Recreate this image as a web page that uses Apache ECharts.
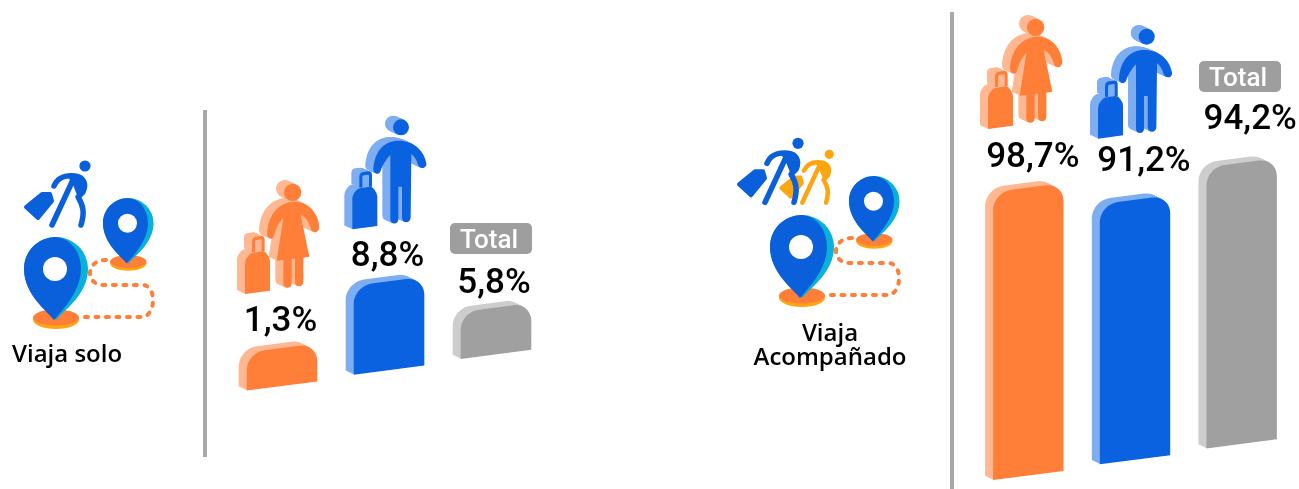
<!DOCTYPE html>
<html>
<head>
<meta charset="utf-8">
<style>html,body{margin:0;padding:0;background:#fff}#c{width:1299px;height:489px}</style>
<script src="https://cdn.jsdelivr.net/npm/echarts@6/dist/echarts.min.js"></script>
</head>
<body>
<div id="c"></div>
<script>
// ---- data ----
const categories = ['Mujeres', 'Hombres', 'Total'];
const soloTitle = 'Viaja solo';
const groupTitle = ['Viaja', 'Acompañado'];
// printed percentages
const soloPercent = [1.3, 8.8, 5.8];
const groupPercent = [98.7, 91.2, 94.2];
// drawn bar lengths on a shared 0-100 axis (the picture's bars are not proportional to their labels)
const soloBarLength = [12.9, 30.1, 15.9];
const groupBarLength = [97.6, 88.1, 95.3];

// ---- layout and style ----
const colors = ['#ff7f38', '#0a62e0', '#a0a0a0'];
const lights = ['#ffb892', '#7eaef2', '#cdcdcd'];
const soloLift = [25.5, 24.5, 23.5], soloShift = [-1.5, -1.5, -2];
const groupLift = [29.5, 37.5, 42.5], groupShift = [4.5, 9, 8.5];
const STAGGER = 0.148, EDGE = 0.13, DEPTH = [-8, -4], RADIUS = 18;

const reg = (n, d) => echarts.graphic.registerShape(n, echarts.graphic.extendPath(d));
reg('manBody', 'M460,205 C465,150 495,122 535,122 C580,122 612,150 619,190 C621,207 597,210 593,192 C590,180 582,168 574,162 L572,352 C572,372 546,372 546,352 L546,260 L535,260 L535,358 C535,375 511,375 511,358 L511,165 C500,175 488,195 482,212 C477,228 458,222 460,205 Z');
reg('womanBody', 'M141,400 C145,340 180,305 225,305 C265,305 295,340 298,380 C298,400 275,402 272,385 C268,368 258,352 242,345 L268,470 L250,473 L250,545 C250,563 225,563 225,545 L225,476 L215,477 L215,550 C215,568 190,568 190,550 L190,480 L170,482 L190,355 C178,365 168,385 162,408 C157,422 141,418 141,400 Z');
reg('caseBody', 'M397,298 Q397,282 412,268 Q416,265 425,264 L450,260 Q458,260 464,270 Q472,280 472,290 L472,378 L397,388 Z');
reg('caseHandle', 'M418,262 L418,230 Q418,218 430,216 L445,214 Q456,213 456,226 L456,260 L447,261 L447,228 Q447,224 443,224 L431,226 Q427,227 427,231 L427,263 Z');
reg('pinOuter', 'M32,83 C26,75 0,58 0,32 A32,32 0 0 1 64,32 C64,58 38,75 32,83 Z');
reg('pinInner', 'M30,83 C24,75 0,58 0,32 C0,14 14,0 32,0 C48,2 57,16 57,32 C57,54 38,74 30,83 Z');
reg('trail', 'M106,260 C96,260 90,266 90,273 C90,281 96,285 104,285 L142,285 C150,285 153,293 153,300 C153,310 148,317 142,317 L83,317');
reg('walkLimbs', 'M54,186 C58,177 65,175 75,176 C83,177 87,183 83,192 L78,197 C83,205 85,212 81,225 M72,182 L52,225');
reg('walkTorso', 'M68,176 L82,177 L86,188 L79,198 L73,183 Z');
reg('walkCase', 'M26,207 L42,194 L50,194 L52,201 L38,218 Z');

function person(kind, x, y, dark, light) {
  const isMan = kind === 'man';
  const head = isMan ? [543, 82, 24] : [218, 277, 26];
  const cdx = isMan ? 0 : -322, cdy = isMan ? 0 : 194;
  const children = [];
  const parts = (dx, dy, fill) => {
    children.push({ type: isMan ? 'manBody' : 'womanBody', x: dx, y: dy, shape: {}, style: { fill } });
    children.push({ type: 'caseBody', x: dx + cdx, y: dy + cdy, shape: {}, style: { fill } });
    children.push({ type: 'caseHandle', x: dx + cdx, y: dy + cdy, shape: {}, style: { fill } });
    children.push({ type: 'circle', shape: { cx: head[0] + dx, cy: head[1] + dy, r: head[2] }, style: { fill } });
  };
  for (let k = 10; k >= 1; k--) parts(-24 * k / 10, -11 * k / 10, light);
  parts(0, 0, dark);
  return { type: 'group', x, y, scaleX: 1 / 3, scaleY: 1 / 3, children };
}

function pin(x, y, s) {
  return { type: 'group', x, y, scaleX: s, scaleY: s, children: [
    { type: 'ellipse', shape: { cx: 32, cy: 82.5, rx: 23, ry: 9.5 }, style: { fill: '#ffa50f' } },
    { type: 'ellipse', shape: { cx: 32, cy: 80.5, rx: 23, ry: 8 }, style: { fill: '#ff7f38' } },
    { type: 'pinOuter', shape: {}, style: { fill: '#07b1d9' } },
    { type: 'pinInner', shape: {}, style: { fill: '#0a5fdb' } },
    { type: 'circle', shape: { cx: 31, cy: 32, r: 12 }, style: { fill: '#fff' } }
  ] };
}

function walker(x, y, s, c) {
  return { type: 'group', x, y, scaleX: s, scaleY: s, children: [
    { type: 'circle', shape: { cx: 85, cy: 166, r: 5.6 }, style: { fill: c } },
    { type: 'walkLimbs', shape: {}, style: { fill: 'none', stroke: c, lineWidth: 5.5, lineCap: 'round', lineJoin: 'round' } },
    { type: 'walkTorso', shape: {}, style: { fill: c, stroke: c, lineWidth: 1.5, lineJoin: 'round' } },
    { type: 'walkCase', shape: {}, style: { fill: c, stroke: c, lineWidth: 4, lineJoin: 'round' } }
  ] };
}

function pinSet(dx, dy) {
  return { type: 'group', x: dx, y: dy, children: [
    { type: 'trail', shape: {}, style: { fill: 'none', stroke: '#ff7f38', lineWidth: 4, lineCap: 'round', lineDash: [3, 7.5] } },
    pin(103, 198, 0.79),
    pin(24, 237, 1)
  ] };
}

function totalTag(x, y) {
  return { type: 'group', x, y, children: [
    { type: 'rect', shape: { x: 0, y: 0, width: 82, height: 31, r: 5 }, style: { fill: '#9e9e9e' } },
    { type: 'text', x: 39, y: 18, style: { text: categories[2], fill: '#fff', align: 'center', verticalAlign: 'middle', font: '500 26px Roboto' } }
  ] };
}

const titleFont = '600 24px "Open Sans"';
const txt = (text, x, y, align) => ({ type: 'text', x, y, style: { text, fill: '#000', align, verticalAlign: 'middle', font: titleFont } });

function renderer(percent, lift, shift) {
  return function (params, api) {
    const i = params.dataIndex;
    const ref = api.coord([0, 0]);
    const baseP = api.coord([i, 0]);
    const topP = api.coord([i, api.value(1)]);
    const w = api.size([1, 0])[0] * 0.66;
    const cx = baseP[0], l = cx - w / 2, r = cx + w / 2;
    const map = (x, y) => [x, y - STAGGER * (cx - ref[0]) - EDGE * (x - cx)];
    const pts = [map(l, baseP[1])];
    const n = 10;
    for (let a = 0; a <= n; a++) {
      const t = Math.PI + (Math.PI / 2) * a / n;
      pts.push(map(l + RADIUS + RADIUS * Math.cos(t), topP[1] + RADIUS + RADIUS * Math.sin(t)));
    }
    for (let a = 0; a <= n; a++) {
      const t = -Math.PI / 2 + (Math.PI / 2) * a / n;
      pts.push(map(r - RADIUS + RADIUS * Math.cos(t), topP[1] + RADIUS + RADIUS * Math.sin(t)));
    }
    pts.push(map(r, baseP[1]));
    const children = [];
    for (let k = 8; k >= 1; k--) {
      children.push({
        type: 'polygon', x: DEPTH[0] * k / 8, y: DEPTH[1] * k / 8,
        shape: { points: pts }, style: { fill: lights[i] }
      });
    }
    children.push({ type: 'polygon', shape: { points: pts }, style: { fill: colors[i] } });
    const topMid = map(cx, topP[1]);
    children.push({
      type: 'text', x: cx + shift[i], y: topMid[1] - lift[i],
      style: {
        text: percent[i].toFixed(1).replace('.', ',') + '%', fill: '#000',
        align: 'center', verticalAlign: 'middle', font: '500 35px Roboto'
      }
    });
    return { type: 'group', children };
  };
}

const chart = echarts.init(document.getElementById('c'), null, { renderer: 'canvas' });
chart.setOption({
  backgroundColor: '#fff',
  animation: false,
  grid: [
    { left: 228.5, width: 321, bottom: 103, height: 295 },
    { left: 975, width: 320, bottom: 13.5, height: 295 }
  ],
  xAxis: [
    { type: 'category', gridIndex: 0, data: categories, show: false },
    { type: 'category', gridIndex: 1, data: categories, show: false }
  ],
  yAxis: [
    { type: 'value', gridIndex: 0, min: 0, max: 100, show: false },
    { type: 'value', gridIndex: 1, min: 0, max: 100, show: false }
  ],
  series: [
    {
      type: 'custom', name: soloTitle, xAxisIndex: 0, yAxisIndex: 0, clip: false, silent: true,
      encode: { x: 0, y: 1 },
      data: soloBarLength.map((v, i) => [i, v]),
      renderItem: renderer(soloPercent, soloLift, soloShift)
    },
    {
      type: 'custom', name: groupTitle.join(' '), xAxisIndex: 1, yAxisIndex: 1, clip: false, silent: true,
      encode: { x: 0, y: 1 },
      data: groupBarLength.map((v, i) => [i, v]),
      renderItem: renderer(groupPercent, groupLift, groupShift)
    }
  ],
  graphic: { elements: [
    { type: 'rect', shape: { x: 203, y: 110, width: 4, height: 347 }, style: { fill: '#a8a8a8' } },
    { type: 'rect', shape: { x: 950, y: 12, width: 4, height: 477 }, style: { fill: '#a8a8a8' } },
    walker(0, 0, 1, '#0a5fdb'),
    pinSet(0, 0),
    txt(soloTitle, 12, 355, 'left'),
    walker(829.3 - 0.82 * 85, 154.3 - 0.82 * 166, 0.82, '#ffa50f'),
    walker(713, -22.7, 1, '#0a5fdb'),
    pinSet(746, -22),
    txt(groupTitle[0], 830, 334, 'center'),
    txt(groupTitle[1], 830, 358, 'center'),
    person('woman', 220, 100, colors[0], lights[0]),
    person('man', 220, 100, colors[1], lights[1]),
    person('woman', 963, -65, colors[0], lights[0]),
    person('man', 965.7, 9.3, colors[1], lights[1]),
    totalTag(450, 223),
    totalTag(1199, 61)
  ] }
});
</script>
</body>
</html>
